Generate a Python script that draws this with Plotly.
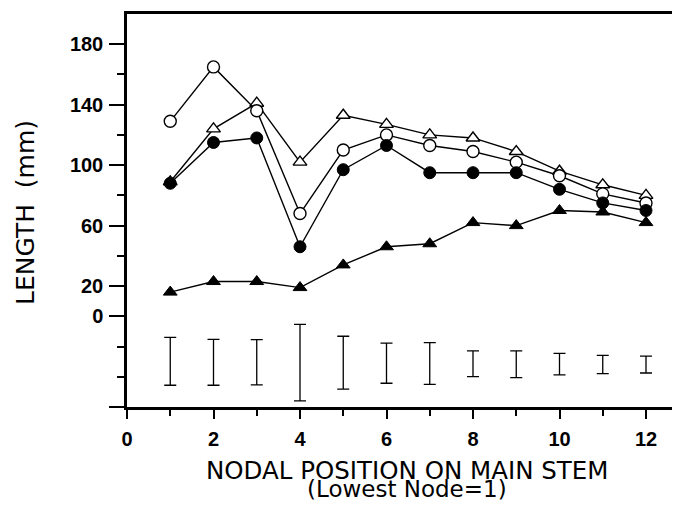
import plotly.graph_objects as go

# ---- data ----
nodes = [1, 2, 3, 4, 5, 6, 7, 8, 9, 10, 11, 12]
open_circle = [129, 165, 136, 68, 110, 120, 113, 109, 102, 93, 81, 75]
open_triangle = [89, 124, 141, 102, 133, 127, 120, 118, 109, 96, 87, 80]
filled_circle = [88, 115, 118, 46, 97, 113, 95, 95, 95, 84, 75, 70]
filled_triangle = [16, 23, 23, 19, 34, 46, 48, 62, 60, 70, 69, 62]

# LSD-type bars drawn below the zero line (top / bottom ends)
bar_top = [-14, -15.2, -15.4, -5.3, -13.2, -17.8, -17.4, -22.9, -22.9, -24.5, -25.8, -26.4]
bar_bottom = [-45.6, -45.6, -45.4, -56, -48.2, -44.3, -45, -39.9, -40.5, -38.8, -37.9, -37.5]

y_major = [-60, 0, 20, 60, 100, 140, 180]
y_major_text = ["", "0", "20", "60", "100", "140", "180"]
y_minor = [-40, -20, 40, 80, 120, 160]
x_major = [0, 2, 4, 6, 8, 10, 12]
x_minor = [1, 3, 5, 7, 9, 11]

bar_center = [(t + b) / 2 for t, b in zip(bar_top, bar_bottom)]
bar_half = [(t - b) / 2 for t, b in zip(bar_top, bar_bottom)]

# page body has an 8px default margin on every side; size the figure so the
# page never overflows the 680x508 window (no scrollbars)
OFF = 8
FIG_W, FIG_H = 680 - 2 * OFF, 508 - 2 * OFF
PL, PT, PB, PR = 127, 14, 407, FIG_W + OFF
PW, PH = PR - PL, PB - PT


def px_x(px):
    return (px - PL) / PW


def px_y(py):
    return (PB - py) / PH


fig = go.Figure()

LINE = dict(color="black", width=1.4)

fig.add_trace(go.Scatter(
    x=nodes, y=open_triangle, mode="lines+markers", line=LINE,
    marker=dict(symbol="triangle-up", size=12, color="white",
                line=dict(color="black", width=1.4)),
    showlegend=False))
fig.add_trace(go.Scatter(
    x=nodes, y=open_circle, mode="lines+markers", line=LINE,
    marker=dict(symbol="circle", size=12, color="white",
                line=dict(color="black", width=1.4)),
    showlegend=False))
fig.add_trace(go.Scatter(
    x=nodes, y=filled_circle, mode="lines+markers", line=LINE,
    marker=dict(symbol="circle", size=12, color="black",
                line=dict(color="black", width=1)),
    showlegend=False))
fig.add_trace(go.Scatter(
    x=nodes, y=filled_triangle, mode="lines+markers", line=LINE,
    marker=dict(symbol="triangle-up", size=12, color="black",
                line=dict(color="black", width=1)),
    showlegend=False))

fig.add_trace(go.Scatter(
    x=nodes, y=bar_center, mode="markers",
    marker=dict(size=1, color="rgba(0,0,0,0)"),
    error_y=dict(type="data", array=bar_half, symmetric=True,
                 color="black", thickness=1.3, width=6),
    showlegend=False, hoverinfo="skip"))

tickfont = dict(family="Liberation Sans", size=20, color="black", weight="bold")

x_unit = (646 - 127) / 12.0

fig.update_layout(
    width=FIG_W, height=FIG_H,
    margin=dict(l=PL - OFF, r=FIG_W + OFF - PR, t=PT - OFF, b=FIG_H + OFF - PB),
    paper_bgcolor="white", plot_bgcolor="white",
    xaxis=dict(
        range=[0, PW / x_unit], showgrid=False, zeroline=False,
        showline=True, linecolor="black", linewidth=2.5, mirror=True,
        tickmode="array", tickvals=x_major, ticktext=[str(v) for v in x_major],
        ticks="outside", ticklen=9, tickwidth=2, tickcolor="black",
        tickfont=tickfont, ticklabelstandoff=3,
        minor=dict(tickmode="array", tickvals=x_minor, ticks="outside",
                   ticklen=6, tickwidth=2, tickcolor="black", showgrid=False),
    ),
    yaxis=dict(
        range=[-60, 200], showgrid=False, zeroline=False,
        showline=True, linecolor="black", linewidth=2.5,
        tickmode="array", tickvals=y_major, ticktext=y_major_text,
        ticks="outside", ticklen=15, tickwidth=2, tickcolor="black",
        tickfont=tickfont, ticklabelstandoff=2,
        minor=dict(tickmode="array", tickvals=y_minor, ticks="outside",
                   ticklen=7, tickwidth=2, tickcolor="black", showgrid=False),
    ),
    annotations=[
        dict(text="LENGTH&nbsp;&nbsp;(mm)", xref="paper", yref="paper",
             x=px_x(26), y=px_y(213), xanchor="center", yanchor="middle",
             textangle=-90, showarrow=False,
             font=dict(family="DejaVu Sans", size=25, color="black")),
        dict(text="NODAL POSITION ON MAIN STEM", xref="paper", yref="paper",
             x=px_x(407), y=px_y(470), xanchor="center", yanchor="middle",
             showarrow=False,
             font=dict(family="DejaVu Sans", size=24.5, color="black")),
        dict(text="(Lowest Node=1)", xref="paper", yref="paper",
             x=px_x(407), y=px_y(489), xanchor="center", yanchor="middle",
             showarrow=False,
             font=dict(family="DejaVu Sans", size=23, color="black")),
    ],
)

fig.write_html("out.html")
